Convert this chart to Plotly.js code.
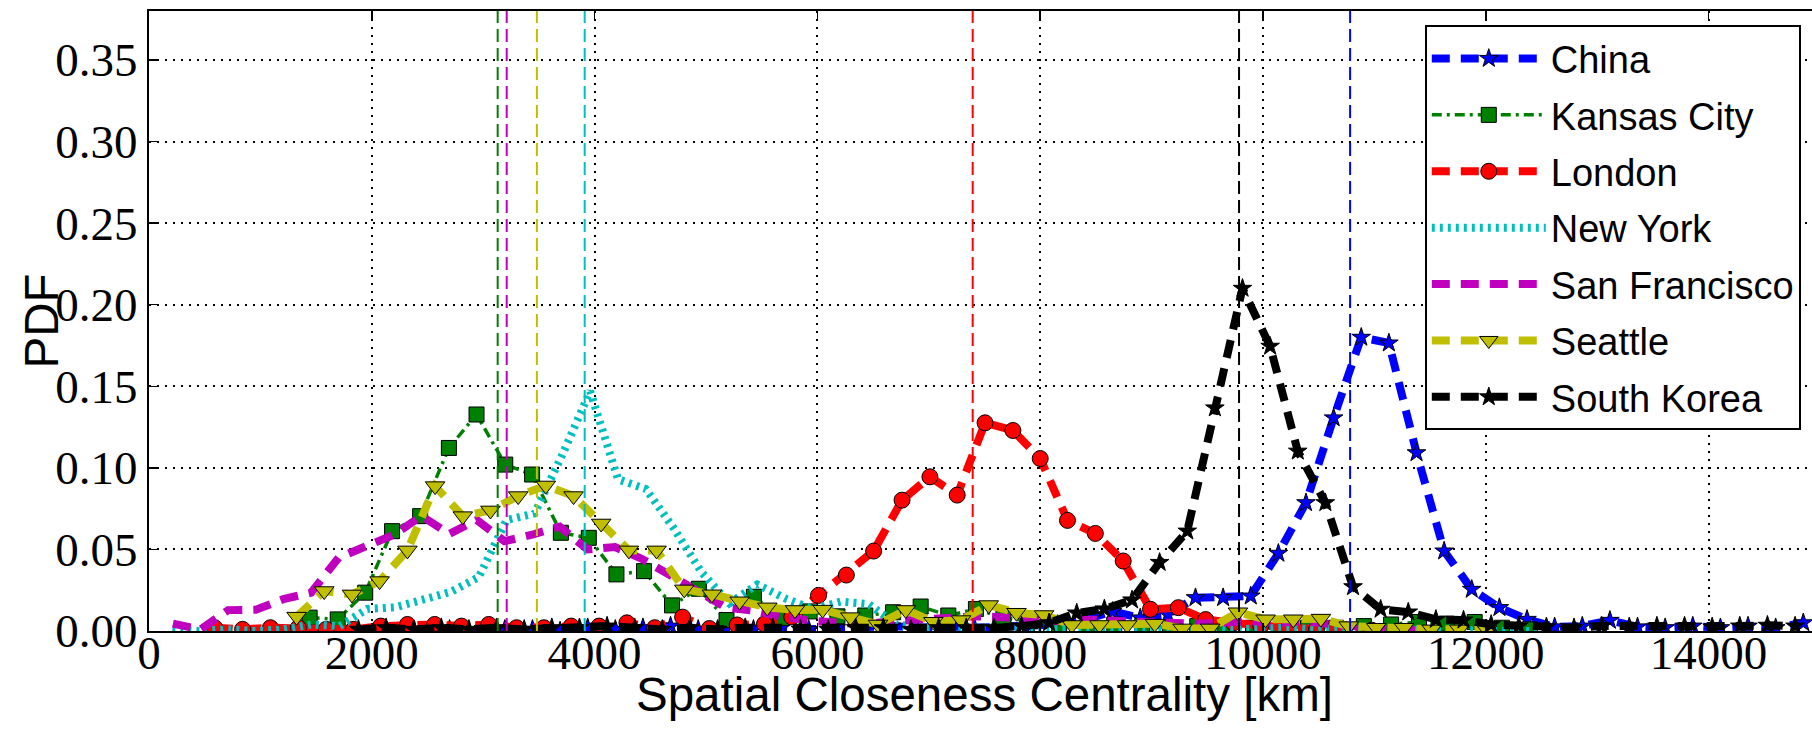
<!DOCTYPE html>
<html>
<head>
<meta charset="utf-8">
<script src="https://cdn.plot.ly/plotly-3.0.1.min.js"></script>
<style>
  html, body { margin: 0; padding: 0; overflow: hidden; background: #fff; }
  #chart { width: 1820px; height: 729px; }
</style>
</head>
<body>
<div id="chart"></div>
<script>
// Spatial closeness centrality distributions (PDF per bin, km on x)

const chinaX = [2450, 2698, 2946, 3194, 3442, 3690, 3938, 4186, 4434, 4682, 4930, 5178, 5426, 5674, 5922, 6170, 6418, 6666, 6914, 7162, 7410, 7658, 7906, 8154, 8402, 8650, 8898, 9146, 9394, 9642, 9890, 10138, 10386, 10634, 10882, 11130, 11378, 11626, 11874, 12122, 12370, 12618, 12866, 13114, 13362, 13610, 13858, 14106, 14354, 14602, 14850];
const chinaY = [0.000, 0.001, 0.000, 0.001, 0.001, 0.000, 0.002, 0.001, 0.002, 0.003, 0.001, 0.002, 0.001, 0.002, 0.001, 0.002, 0.002, 0.003, 0.002, 0.003, 0.002, 0.003, 0.003, 0.004, 0.007, 0.012, 0.008, 0.0100, 0.0204, 0.0204, 0.0214, 0.0476, 0.0786, 0.1306, 0.1800, 0.1765, 0.1092, 0.0490, 0.0255, 0.0143, 0.0071, 0.0025, 0.0030, 0.0065, 0.0025, 0.0020, 0.0030, 0.0020, 0.0030, 0.0020, 0.0050];

const kansasX = [1442, 1694, 1941, 2182, 2434, 2692, 2940, 3198, 3439, 3697, 3948, 4196, 4444, 4695, 4936, 5184, 5430, 5680, 5930, 6180, 6430, 6680, 6927, 7175, 7423, 7670, 7920, 8170, 8420, 8665, 8915, 9165, 9410, 9660, 9910, 10160, 10405, 10655, 10905, 11150, 11400, 11650, 11900, 12145, 12395];
const kansasY = [0.0082, 0.0071, 0.0235, 0.0612, 0.0704, 0.1122, 0.1327, 0.1020, 0.0959, 0.0602, 0.0571, 0.0347, 0.0367, 0.0157, 0.0259, 0.0067, 0.0210, 0.0080, 0.0120, 0.0090, 0.0095, 0.0115, 0.0150, 0.0095, 0.0135, 0.0080, 0.0060, 0.0040, 0.0030, 0.0040, 0.0030, 0.0020, 0.0030, 0.0020, 0.0020, 0.0030, 0.0020, 0.0020, 0.0030, 0.0040, 0.0055, 0.0045, 0.0055, 0.0020, 0.0010];

const londonX = [590, 840, 1090, 1340, 1590, 1835, 2080, 2320, 2565, 2805, 3050, 3300, 3545, 3790, 4040, 4290, 4540, 4790, 5030, 5280, 5525, 5770, 6010, 6260, 6505, 6760, 7010, 7255, 7505, 7755, 8000, 8245, 8495, 8745, 8990, 9240, 9485, 9735, 9980, 10230, 10480, 10725, 10975];
const londonY = [0.002, 0.001, 0.002, 0.002, 0.001, 0.001, 0.003, 0.004, 0.004, 0.003, 0.004, 0.002, 0.002, 0.003, 0.003, 0.005, 0.002, 0.0085, 0.0015, 0.0037, 0.0043, 0.0086, 0.0218, 0.0343, 0.0490, 0.0802, 0.0945, 0.0833, 0.1276, 0.1229, 0.1057, 0.0678, 0.0598, 0.0429, 0.0133, 0.0143, 0.0070, 0.0050, 0.0030, 0.0020, 0.0010, 0.0010, 0.0005];

const newYorkX = [210, 460, 710, 960, 1210, 1460, 1710, 1960, 2210, 2460, 2710, 2960, 3210, 3460, 3710, 3960, 4210, 4460, 4710, 4960, 5210, 5460, 5710, 5960, 6210, 6460, 6710, 6960, 7210, 7460, 7710, 7960, 8210, 8460, 8710, 8960, 9210, 9460, 9710, 9960, 10210, 10460, 10710, 10960, 11210, 11460, 11710, 11960, 12210, 12460];
const newYorkY = [0.001, 0.000, 0.001, 0.000, 0.001, 0.004, 0.003, 0.0135, 0.0145, 0.0190, 0.0240, 0.0330, 0.0680, 0.0720, 0.1080, 0.1470, 0.0930, 0.0870, 0.0630, 0.0360, 0.0170, 0.0285, 0.0200, 0.0135, 0.0180, 0.0165, 0.0040, 0.0020, 0.0030, 0.0020, 0.0020, 0.0030, 0.0020, 0.0020, 0.0020, 0.0010, 0.0020, 0.0020, 0.0010, 0.0020, 0.0020, 0.0010, 0.0020, 0.0010, 0.0010, 0.0010, 0.0010, 0.0010, 0.0005, 0.0000];

const sanFranciscoX = [215, 463, 711, 959, 1207, 1455, 1703, 1951, 2199, 2447, 2695, 2943, 3191, 3439, 3687, 3935, 4183, 4431, 4679, 4927, 5175, 5423, 5671, 5919, 6167, 6415, 6663, 6911, 7159, 7407, 7655, 7903, 8151, 8399, 8647, 8895, 9143, 9391, 9639, 9887, 10135, 10383, 10631, 10879, 11127, 11375];
const sanFranciscoY = [0.0045, 0.0010, 0.0128, 0.0130, 0.0195, 0.0235, 0.0450, 0.0515, 0.0590, 0.0705, 0.0595, 0.0680, 0.0550, 0.0590, 0.0640, 0.0500, 0.0515, 0.0440, 0.0340, 0.0245, 0.0145, 0.0125, 0.0088, 0.0065, 0.0050, 0.0040, 0.0060, 0.0070, 0.0075, 0.0090, 0.0085, 0.0070, 0.0060, 0.0070, 0.0060, 0.0050, 0.0050, 0.0045, 0.0050, 0.0060, 0.0050, 0.0060, 0.0040, 0.0020, 0.0010, 0.0005];

const seattleX = [1325, 1573, 1822, 2070, 2320, 2568, 2817, 3065, 3314, 3562, 3811, 4059, 4308, 4556, 4805, 5053, 5302, 5550, 5799, 6047, 6296, 6544, 6793, 7041, 7290, 7538, 7787, 8035, 8284, 8532, 8781, 9029, 9278, 9526, 9775, 10023, 10272, 10520, 10769, 11017, 11266, 11514, 11763, 12011];
const seattleY = [0.0088, 0.0245, 0.0224, 0.0306, 0.0494, 0.0888, 0.0704, 0.0739, 0.0827, 0.0892, 0.0827, 0.0659, 0.0494, 0.0494, 0.0255, 0.0225, 0.0182, 0.0145, 0.0129, 0.0131, 0.0085, 0.0040, 0.0129, 0.0057, 0.0067, 0.0159, 0.0112, 0.0098, 0.0037, 0.0037, 0.0037, 0.0045, 0.0016, 0.0016, 0.0115, 0.0072, 0.0072, 0.0076, 0.0030, 0.0020, 0.0020, 0.0010, 0.0010, 0.0005];

const southKoreaX = [1880, 2128, 2376, 2624, 2872, 3120, 3368, 3616, 3864, 4112, 4360, 4608, 4856, 5104, 5352, 5600, 5848, 6096, 6344, 6592, 6840, 7088, 7336, 7584, 7832, 8080, 8328, 8576, 8824, 9072, 9320, 9568, 9816, 10064, 10312, 10560, 10808, 11056, 11304, 11552, 11800, 12048, 12296, 12544, 12792, 13040, 13288, 13536, 13784, 14032, 14280, 14528, 14776];
const southKoreaY = [0.001, 0.002, 0.001, 0.002, 0.001, 0.002, 0.001, 0.002, 0.002, 0.003, 0.002, 0.001, 0.002, 0.001, 0.002, 0.002, 0.001, 0.001, 0.002, 0.002, 0.001, 0.002, 0.002, 0.002, 0.003, 0.005, 0.0110, 0.0135, 0.0190, 0.0420, 0.0612, 0.1367, 0.2100, 0.1745, 0.1102, 0.0786, 0.0271, 0.0133, 0.0116, 0.0071, 0.0067, 0.0040, 0.0030, 0.0025, 0.0020, 0.0030, 0.0025, 0.0030, 0.0030, 0.0025, 0.0030, 0.0035, 0.0030];

// mean spatial closeness per dataset (km)
const meanNames = ['Kansas City', 'San Francisco', 'Seattle', 'New York', 'London', 'South Korea', 'China'];
const meanValues = [3130, 3211, 3482, 3911, 7394, 9785, 10782];

const xTicks = [0, 2000, 4000, 6000, 8000, 10000, 12000, 14000];
const yTicks = [0.00, 0.05, 0.10, 0.15, 0.20, 0.25, 0.30, 0.35];
const xRange = [0, 15000];
const yRange = [0, 0.38];

// ---- styling ----
const colors = {
  'China': '#0000ff',
  'Kansas City': '#008000',
  'London': '#ff0000',
  'New York': '#00bfbf',
  'San Francisco': '#bf00bf',
  'Seattle': '#bfbf00',
  'South Korea': '#000000'
};
const thickDash = '18px,11px';
const markerEdge = { color: '#000000', width: 1 };

function series(name, x, y, lineStyle, markerStyle, xaxisId) {
  const t = {
    type: 'scatter',
    name: name,
    legendgroup: name,   // one group per series so rows get a small gap
    x: x,
    y: y,
    xaxis: xaxisId || 'x',
    mode: markerStyle ? 'lines+markers' : 'lines',
    line: Object.assign({ color: colors[name] }, lineStyle)
  };
  if (markerStyle) {
    t.marker = Object.assign({ color: colors[name], line: markerEdge }, markerStyle);
  }
  return t;
}

// the topmost series sits on the overlaid x2 axis (same range), which carries the tick labels
const traces = [
  series('China', chinaX, chinaY, { width: 8, dash: thickDash }, { symbol: 'star', size: 14 }),
  series('Kansas City', kansasX, kansasY, { width: 3.5, dash: '10px,5px,3px,5px' }, { symbol: 'square', size: 15 }),
  series('London', londonX, londonY, { width: 8, dash: thickDash }, { symbol: 'circle', size: 16 }),
  series('New York', newYorkX, newYorkY, { width: 8, dash: '3px,5px' }, null),
  series('San Francisco', sanFranciscoX, sanFranciscoY, { width: 8, dash: thickDash }, null),
  series('Seattle', seattleX, seattleY, { width: 8, dash: thickDash }, { symbol: 'triangle-down', size: 17 }),
  series('South Korea', southKoreaX, southKoreaY, { width: 8, dash: thickDash }, { symbol: 'star', size: 14 }, 'x2')
];

// vertical dashed markers at each dataset's mean
const meanShapes = meanNames.map((n, i) => ({
  type: 'line',
  xref: 'x', yref: 'paper',
  x0: meanValues[i], x1: meanValues[i],
  y0: 0, y1: 1,
  layer: 'above',
  line: { color: colors[n], width: 2, dash: '13px,6px' }
}));

const tickFont = { family: 'Liberation Serif, Times New Roman, serif', size: 47, color: '#000' };
const labelFont = { family: 'Liberation Sans, Arial, sans-serif', size: 47.5, color: '#000' };

const axisCommon = {
  showgrid: true,
  gridcolor: '#000000',
  gridwidth: 2,
  griddash: '2px,6px',
  zeroline: false,
  showline: true,
  linecolor: '#000000',
  linewidth: 2,
  mirror: 'ticks',
  ticks: 'inside',
  ticklen: 8,
  tickwidth: 1.5,
  tickcolor: '#000000',
  tickfont: tickFont,
  automargin: false
};

const layout = {
  width: 1820,
  height: 729,
  margin: { l: 149, r: 0, t: 11, b: 98 },
  paper_bgcolor: '#ffffff',
  plot_bgcolor: '#ffffff',
  showlegend: true,
  legend: {
    x: 0.9885, xanchor: 'right',
    y: 0.977, yanchor: 'top',
    bgcolor: '#ffffff',
    bordercolor: '#000000',
    borderwidth: 2,
    font: { family: 'Liberation Sans, Arial, sans-serif', size: 38, color: '#000' },
    itemwidth: 114,
    tracegroupgap: 4
  },
  // frame, grid and inward ticks
  xaxis: Object.assign({}, axisCommon, {
    range: xRange,
    tickvals: xTicks,
    showticklabels: false
  }),
  // tick labels of the x axis, set a little closer to the frame
  xaxis2: {
    overlaying: 'x',
    anchor: 'free',
    position: 0.016,
    side: 'bottom',
    range: xRange,
    tickvals: xTicks,
    ticktext: xTicks.map(v => String(v)),
    tickfont: tickFont,
    showgrid: false,
    showline: false,
    zeroline: false,
    ticks: '',
    automargin: false
  },
  yaxis: Object.assign({}, axisCommon, {
    range: yRange,
    tickvals: yTicks,
    ticktext: yTicks.map(v => v.toFixed(2))
  }),
  annotations: [
    {
      text: 'Spatial Closeness Centrality [km]',
      xref: 'paper', yref: 'paper',
      x: 0.5, y: -0.103,
      xanchor: 'center', yanchor: 'middle',
      showarrow: false,
      font: labelFont
    },
    {
      text: 'PDF',
      xref: 'paper', yref: 'paper',
      x: -0.0649, y: 0.5,
      xanchor: 'center', yanchor: 'middle',
      textangle: -90,
      showarrow: false,
      font: labelFont
    }
  ],
  shapes: meanShapes
};

Plotly.newPlot('chart', traces, layout, { displayModeBar: false, staticPlot: true });
</script>
</body>
</html>
